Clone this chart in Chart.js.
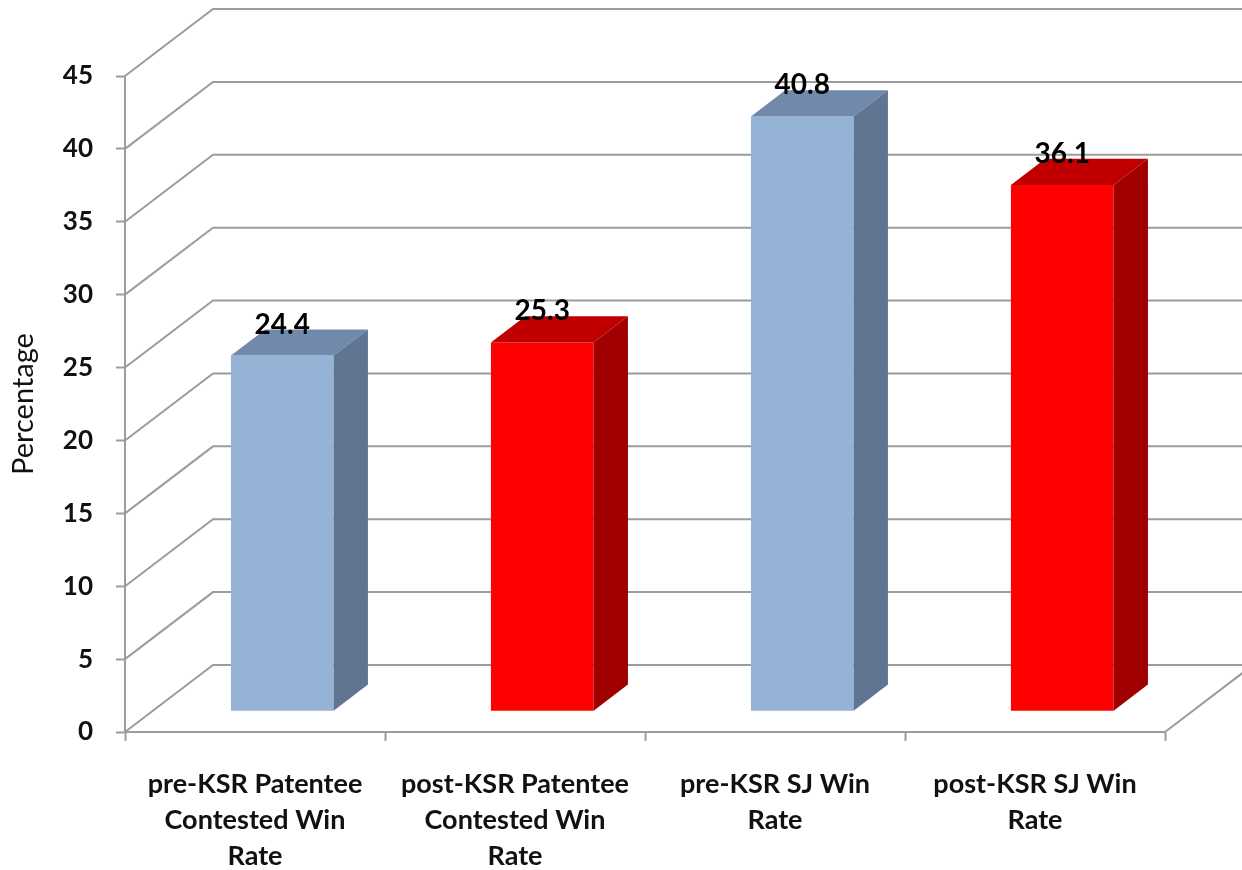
<!DOCTYPE html>
<html>
<head>
<meta charset="utf-8">
<script src="https://cdn.jsdelivr.net/npm/chart.js@4/dist/chart.umd.min.js"></script>
<style>
  body { margin: 0; background: #fff; }
  #wrap { width: 1242px; height: 870px; }
</style>
</head>
<body>
<div id="wrap"><canvas id="chart" width="1242" height="870"></canvas></div>
<script>
const categories = [
  ["pre-KSR Patentee", "Contested Win", "Rate"],
  ["post-KSR Patentee", "Contested Win", "Rate"],
  ["pre-KSR SJ Win", "Rate"],
  ["post-KSR SJ Win", "Rate"]
];
const winRates = [24.4, 25.3, 40.8, 36.1];
const yMin = 0;
const yMax = 45;
const yStep = 5;

const faces = {
  blue: { front: "#95b3d7", top: "#7189aa", side: "#5f7591" },
  red: { front: "#ff0000", top: "#c00000", side: "#a00000" }
};
const barFaces = [faces.blue, faces.red, faces.blue, faces.red];

// oblique depth of the plot box; the bars stand in the middle of it
const DEPTH = { x: 88, y: -67 };
const BAR_FRONT = 0.31;
const BAR_DEPTH = 0.39;
const GRID = "#9c9c9c";
const FONT = "Lato, 'Open Sans', sans-serif";

function poly(ctx, color, pts) {
  ctx.fillStyle = color;
  ctx.beginPath();
  ctx.moveTo(pts[0][0], pts[0][1]);
  for (let i = 1; i < pts.length; i++) ctx.lineTo(pts[i][0], pts[i][1]);
  ctx.closePath();
  ctx.fill();
}

const box3d = {
  id: "box3d",
  beforeDatasetsDraw(chart) {
    const { ctx, chartArea: a, scales } = chart;
    const y = scales.y;
    ctx.save();
    ctx.strokeStyle = GRID;
    ctx.lineWidth = 2;

    // back wall gridlines, slanting in from the front axis
    y.ticks.forEach(t => {
      const py = y.getPixelForValue(t.value);
      ctx.beginPath();
      ctx.moveTo(a.left, py);
      ctx.lineTo(a.left + DEPTH.x, py + DEPTH.y);
      ctx.lineTo(a.right + DEPTH.x, py + DEPTH.y);
      ctx.stroke();
    });
    // right edge of the floor
    ctx.beginPath();
    ctx.moveTo(a.right, a.bottom);
    ctx.lineTo(a.right + DEPTH.x, a.bottom + DEPTH.y);
    ctx.stroke();

    const fx = DEPTH.x * BAR_FRONT, fy = DEPTH.y * BAR_FRONT;
    const bx = DEPTH.x * BAR_DEPTH, by = DEPTH.y * BAR_DEPTH;
    ctx.font = "bold 28px " + FONT;
    ctx.textAlign = "center";
    ctx.textBaseline = "middle";

    chart.getDatasetMeta(0).data.forEach((bar, i) => {
      const c = barFaces[i];
      const x0 = bar.x - bar.width / 2 + fx;
      const x1 = bar.x + bar.width / 2 + fx;
      const top = bar.y + fy;
      const bottom = bar.base + fy;
      poly(ctx, c.front, [[x0, top], [x1, top], [x1, bottom], [x0, bottom]]);
      poly(ctx, c.top, [[x0, top], [x0 + bx, top + by], [x1 + bx, top + by], [x1, top]]);
      poly(ctx, c.side, [[x1, top], [x1 + bx, top + by], [x1 + bx, bottom + by], [x1, bottom]]);
      ctx.fillStyle = "#000";
      ctx.fillText(winRates[i].toFixed(1), (x0 + x1) / 2, top - 31);
    });

    ctx.restore();
    return false;
  }
};

new Chart(document.getElementById("chart"), {
  type: "bar",
  data: {
    labels: categories,
    datasets: [{
      data: winRates,
      backgroundColor: barFaces.map(f => f.front),
      categoryPercentage: 1,
      barPercentage: 0.395
    }]
  },
  options: {
    responsive: false,
    animation: false,
    devicePixelRatio: 1,
    layout: { padding: { top: 76, right: 77, bottom: 0, left: 0 } },
    plugins: { legend: { display: false }, tooltip: { enabled: false } },
    scales: {
      x: {
        grid: { offset: true, drawOnChartArea: false, tickLength: 9, tickColor: GRID, tickWidth: 2 },
        border: { color: GRID, width: 2 },
        ticks: {
          color: "#111",
          padding: 25,
          font: { family: FONT, size: 27, weight: "bold", lineHeight: "36px" },
          maxRotation: 0,
          autoSkip: false
        },
        afterFit: s => { s.height = 138; }
      },
      y: {
        min: yMin,
        max: yMax,
        ticks: {
          stepSize: yStep,
          color: "#111",
          padding: 23,
          font: { family: FONT, size: 26, weight: "bold" }
        },
        grid: { drawOnChartArea: false, tickLength: 9, tickColor: GRID, tickWidth: 2 },
        border: { color: GRID, width: 2 },
        title: {
          display: true,
          text: "Percentage",
          color: "#111",
          padding: { top: 6, bottom: 0 },
          font: { family: FONT, size: 29, lineHeight: 1.2 }
        },
        afterFit: s => { s.width = 125; }
      }
    }
  },
  plugins: [box3d]
});
</script>
</body>
</html>
